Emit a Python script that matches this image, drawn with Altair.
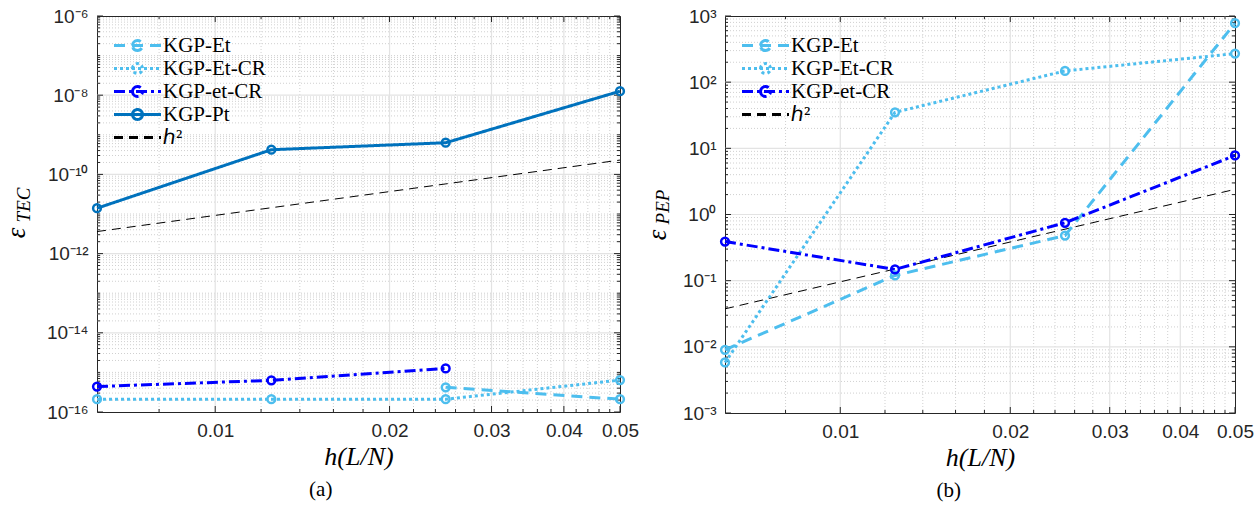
import math
import altair as alt
import pandas as pd

# ---------------- data ----------------
h = [0.00625, 0.0125, 0.025, 0.05]
H2 = "ℎ²"

series_a = ["KGP-Et", "KGP-Et-CR", "KGP-et-CR", "KGP-Pt", H2]
a_Et = [None, None, 4.2e-16, 2.1e-16]
a_EtCR = [2.1e-16, 2.1e-16, 2.1e-16, 6.4e-16]
a_etCR = [4.4e-16, 6.3e-16, 1.26e-15, None]
a_Pt = [1.4e-11, 4.2e-10, 6.3e-10, 1.26e-8]
a_h2 = [3.6e-12, 1.44e-11, 5.75e-11, 2.3e-10]

series_b = ["KGP-Et", "KGP-Et-CR", "KGP-et-CR", H2]
b_Et = [9.0e-3, 0.12, 0.48, 780.0]
b_EtCR = [5.8e-3, 35.0, 148.0, 270.0]
b_etCR = [0.39, 0.148, 0.75, 7.8]
b_h2 = [0.0375, 0.15, 0.6, 2.4]

x_ticks = [0.01, 0.02, 0.03, 0.04, 0.05]
x_minor = [0.008, 0.012, 0.014, 0.016, 0.018, 0.022, 0.024, 0.026, 0.028,
           0.032, 0.034, 0.036, 0.038, 0.042, 0.044, 0.046, 0.048]

a_yticks = [1e-16, 1e-14, 1e-12, 1e-10, 1e-8, 1e-6]
a_ylabels = ["10⁻¹⁶", "10⁻¹⁴", "10⁻¹²", "10⁻¹⁰", "10⁻⁸", "10⁻⁶"]
b_yticks = [1e-3, 1e-2, 1e-1, 1e0, 1e1, 1e2, 1e3]
b_ylabels = ["10⁻³", "10⁻²", "10⁻¹", "10⁰", "10¹", "10²", "10³"]

# ---------------- styles ----------------
COLORS = {"KGP-Et": "#4DBEEE", "KGP-Et-CR": "#4DBEEE", "KGP-et-CR": "#0000FF",
          "KGP-Pt": "#0072BD", H2: "#000000"}
DASHES = {"KGP-Et": [11, 7], "KGP-Et-CR": [3, 3], "KGP-et-CR": [11, 4, 3, 4],
          "KGP-Pt": [1, 0], H2: [9, 6]}
AXC = "#262626"
# legend glyphs: 47 px long line with a 5 px-radius circle (symbolSize 100 -> unit = 5 px)
CIRCLE_PATH = "M-4.7,0H4.7M-1,0A1,1,0,1,1,1,0A1,1,0,1,1,-1,0"
LINE_PATH = "M-4.7,0H4.7"
SHAPES = {s: (LINE_PATH if s == H2 else CIRCLE_PATH) for s in COLORS}


def minor_decades(lo, hi, majors):
    out = []
    for n in range(lo, hi):
        for k in range(1, 10):
            v = k * 10.0 ** n
            if not any(abs(math.log10(v) - math.log10(m)) < 1e-6 for m in majors):
                out.append(v)
    return out


def label_expr(vals, labs):
    expr = "''"
    for v, l in zip(reversed(vals), reversed(labs)):
        e = round(math.log10(v))
        expr = f"abs(log(datum.value)/LN10 - ({e})) < 0.01 ? '{l}' : ({expr})"
    return expr


def panel(series, values, W, H, ydom, yticks, ylabels, yminor, sym, sub,
          eps_pos, sub_pos, caption):
    rows = []
    for s in series:
        for hv, v in zip(h, values[s]):
            if v is not None:
                rows.append({"h": hv, "v": v, "series": s})
    df = pd.DataFrame(rows)
    data_df = df[df["series"] != H2]
    h2_df = df[df["series"] == H2]

    xaxis = alt.Axis(values=x_ticks, format=".2f", title="h(L/N)", labelPadding=9,
                     labelFlush=False, labelOverlap=False,
                     titleFont="Liberation Serif", titleFontStyle="italic", titleFontSize=26,
                     titleFontWeight="normal", titleColor="black", titlePadding=3)
    yaxis = alt.Axis(values=yticks, labelExpr=label_expr(yticks, ylabels), title=None,
                     labelPadding=9, labelOverlap=False, labelFlush=False)
    xs = alt.Scale(type="log", domain=[h[0], h[-1]], nice=False)
    ys = alt.Scale(type="log", domain=ydom, nice=False)

    def X():
        return alt.X("h:Q", scale=xs, axis=xaxis)

    def Y():
        return alt.Y("v:Q", scale=ys, axis=yaxis)

    legend = alt.Legend(
        title=None, orient="none", legendX=30, legendY=19, padding=0,
        labelFont="Liberation Serif", labelFontSize=21, labelColor="black",
        labelOffset=15, rowPadding=0, symbolSize=100, symbolStrokeWidth=3,
        symbolFillColor="transparent",
    )
    cscale = alt.Scale(domain=series, range=[COLORS[s] for s in series])
    dscale = alt.Scale(domain=series, range=[DASHES[s] for s in series])
    sscale = alt.Scale(domain=series, range=[SHAPES[s] for s in series])

    def C():
        return alt.Color("series:N", scale=cscale, legend=legend)

    def D():
        return alt.StrokeDash("series:N", scale=dscale, legend=legend)

    def vrule(vals, color_, dash_, width_):
        return alt.Chart(pd.DataFrame({"h": vals})).mark_rule(
            color=color_, strokeDash=dash_, strokeWidth=width_).encode(x=X())

    def hrule(vals, color_, dash_, width_):
        return alt.Chart(pd.DataFrame({"v": vals})).mark_rule(
            color=color_, strokeDash=dash_, strokeWidth=width_).encode(y=Y())

    vmaj = [v for v in x_ticks if v < h[-1]]
    grid = [
        vrule(x_minor, "#c4c4c4", [1, 2], 0.8),
        hrule(yminor, "#c4c4c4", [1, 2], 0.8),
        vrule(vmaj, "#e3e3e3", [1, 0], 1.2),
        hrule(yticks[1:-1], "#e3e3e3", [1, 0], 1.2),
    ]

    ticks = []
    for vals, ln in ((x_ticks, 6), (x_minor, 3)):
        d = pd.DataFrame({"h": vals})
        for y0, y1 in ((H, H - ln), (0, ln)):
            ticks.append(alt.Chart(d).mark_rule(color=AXC, strokeWidth=1).encode(
                x=X(), y=alt.value(y0), y2=alt.value(y1)))
    for vals, ln in ((yticks, 6), (yminor, 3)):
        d = pd.DataFrame({"v": vals})
        for x0, x1 in ((0, ln), (W, W - ln)):
            ticks.append(alt.Chart(d).mark_rule(color=AXC, strokeWidth=1).encode(
                y=Y(), x=alt.value(x0), x2=alt.value(x1)))

    h2line = alt.Chart(h2_df).mark_line(color="black", strokeWidth=1, strokeDash=[9, 6]).encode(
        x=X(), y=Y())
    lines = alt.Chart(data_df).mark_line(strokeCap="butt", strokeWidth=3).encode(
        x=X(), y=Y(), color=C(), strokeDash=D())
    pts = alt.Chart(data_df).mark_point(
        filled=False, size=60, strokeWidth=2.5, opacity=1, shape="circle").encode(
        x=X(), y=Y(), color=C())
    # legend-only layer (no visible marks)
    leg = alt.Chart(df).mark_point(filled=False, strokeWidth=3, opacity=1).encode(
        x=X(), y=Y(), color=C(),
        shape=alt.Shape("series:N", scale=sscale, legend=legend),
        strokeDash=D(),
    ).transform_filter("false")

    t1 = alt.Chart(pd.DataFrame({"t": [sym]})).mark_text(
        font="Liberation Serif", fontStyle="italic", fontSize=27, angle=270,
        align="center", baseline="middle", color="black").encode(
        x=alt.value(eps_pos[0]), y=alt.value(eps_pos[1]), text="t:N")
    t2 = alt.Chart(pd.DataFrame({"t": [sub]})).mark_text(
        font="Liberation Serif", fontStyle="italic", fontSize=19, angle=270,
        align="center", baseline="middle", color="black").encode(
        x=alt.value(sub_pos[0]), y=alt.value(sub_pos[1]), text="t:N")

    return alt.layer(*grid, *ticks, h2line, lines, pts, leg, t1, t2).properties(
        width=W, height=H,
        title=alt.TitleParams(caption, orient="bottom", anchor="middle", frame="bounds",
                              font="Liberation Serif", fontSize=21, fontWeight="normal",
                              color="black", offset=10),
    )


vals_a = {"KGP-Et": a_Et, "KGP-Et-CR": a_EtCR, "KGP-et-CR": a_etCR, "KGP-Pt": a_Pt, H2: a_h2}
vals_b = {"KGP-Et": b_Et, "KGP-Et-CR": b_EtCR, "KGP-et-CR": b_etCR, H2: b_h2}

pa = panel(series_a, vals_a, 523, 396, [1e-16, 1e-6], a_yticks, a_ylabels,
           minor_decades(-16, -6, a_yticks), "ε", "TEC", (-80, 217), (-73, 189), "(a)")
pb = panel(series_b, vals_b, 510, 397, [1e-3, 1e3], b_yticks, b_ylabels,
           minor_decades(-3, 3, b_yticks), "ε", "PEP", (-67, 219), (-62, 191), "(b)")

chart = alt.hconcat(pa, pb, spacing=4).resolve_scale(
    color="independent", strokeDash="independent", shape="independent",
).properties(
    padding={"left": 2, "top": 6, "right": 2, "bottom": 0},
    background="white",
).configure_view(stroke=AXC, strokeWidth=1).configure_axis(
    labelFont="Liberation Sans", labelFontSize=19, labelColor=AXC,
    domain=False, ticks=False, grid=False,
)

chart.save("out.html", embed_options={"renderer": "svg", "actions": False})
